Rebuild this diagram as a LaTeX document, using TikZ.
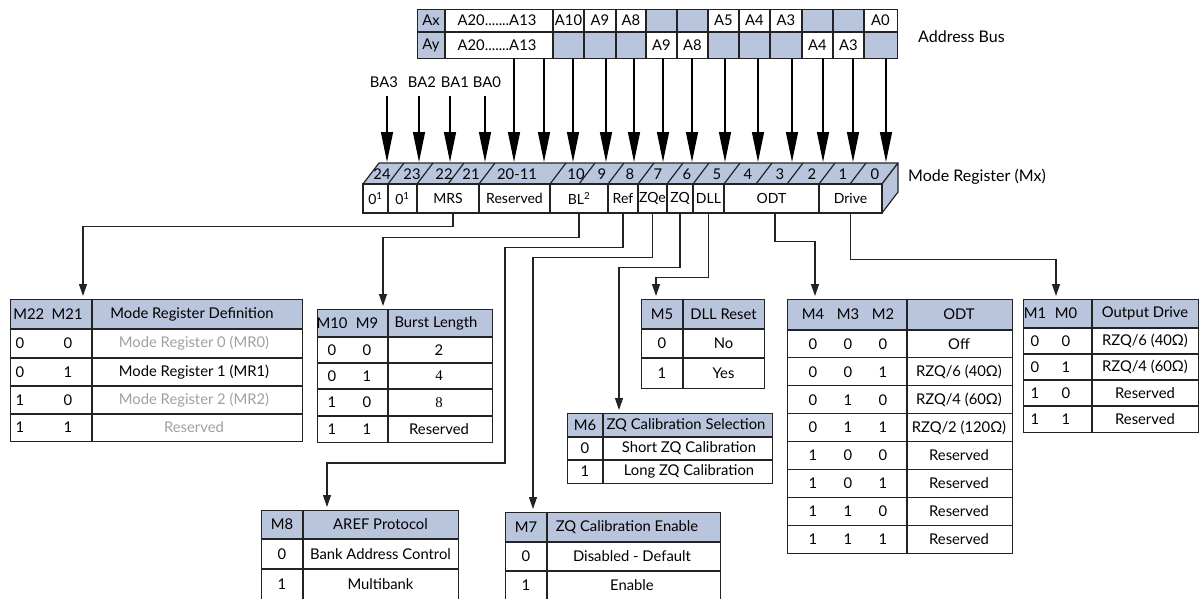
\documentclass[tikz,border=0pt]{standalone}
\usepackage{fontspec}
\setmainfont{Lato}
\newfontfamily\numserif{Liberation Serif}
\usetikzlibrary{arrows.meta}
\definecolor{hdr}{RGB}{185,197,220}
\definecolor{lgray}{RGB}{160,160,160}
\definecolor{ln}{RGB}{35,35,35}
\begin{document}
\begin{tikzpicture}[x=1pt,y=-1pt,
  txt/.style={inner sep=0pt,font=\fontsize{14.8}{16}\selectfont},
  lbl/.style={inner sep=0pt,font=\fontsize{16}{18}\selectfont},
  tline/.style={draw=ln,line width=1.2pt},
  tframe/.style={draw=ln,line width=1.2pt,inner sep=0pt,anchor=north west},
  rcell/.style={draw=ln,line width=1.2pt,inner sep=0pt,minimum height=29pt,fill=white,font=\fontsize{14}{16}\selectfont},
  bigarr/.style={draw=black,line width=1.3pt,-{Triangle[length=30pt,width=12pt]}},
  conn/.style={draw=ln,line width=1.2pt,-{Triangle[length=12pt,width=8pt]}},
]
\clip (0,0) rectangle (1199,598);

% ---------------- Address bus ----------------
\fill[hdr] (417,9) rectangle (445,58);
\foreach \l/\r/\ta/\fa/\tb/\fb [count=\i] in
 {553/584/A10/white//hdr, 584/616/A9/white//hdr, 616/646/A8/white//hdr,
  646/677//hdr/A9/white, 677/708//hdr/A8/white, 708/739/A5/white//hdr,
  739/770/A4/white//hdr, 770/802/A3/white//hdr, 802/833//hdr/A4/white,
  833/864//hdr/A3/white, 864/897/A0/white//hdr}{
  \fill[\fa] (\l,9) rectangle (\r,32);
  \fill[\fb] (\l,32) rectangle (\r,58);
  \node[txt] (ax\i) at ({(\l+\r)/2},20.5) {\ta};
  \node[txt] (ay\i) at ({(\l+\r)/2},45) {\tb};
}
\node[tframe,minimum width=480pt,minimum height=49pt] (bus) at (417,9) {};
\draw[tline] (417,32) -- (897,32);
\foreach \x in {445,553,584,616,646,677,708,739,770,802,833,864}
  \draw[tline] (\x,9) -- (\x,58);
\node[txt] (axl) at (431,20.5) {Ax};
\node[txt] (ayl) at (431,45) {Ay};
\node[txt] (axh) at (497,20.5) {A20.......A13};
\node[txt] (ayh) at (497,45) {A20.......A13};
\node[lbl,anchor=west] (busname) at (918,37) {Address Bus};

% ---------------- Mode register ----------------
\filldraw[fill=hdr,draw=ln,line width=1.2pt,line join=round]
  (363,184) -- (379,163) -- (898,163) -- (882,184) -- cycle;
\filldraw[fill=hdr,draw=ln,line width=1.2pt,line join=round]
  (882,184) -- (898,163) -- (898,192) -- (882,213) -- cycle;
\foreach \x in {388,417,448,479,550,579,608,638,667,693,724,756,787,819,850}
  \draw[tline] (\x,184) -- ++(16,-21);
\foreach \x/\t [count=\i] in {382/24,412/23,444/22,471/21,517/20-11,576/10,602/9,630/8,
  658/7,687/6,717/5,748/4,780/3,812/2,843/1,875/0}
  \node[txt] (bit\i) at (\x,174) {\t};

\node[rcell,minimum width=25pt] (rz1) at (375.5,198.5) {0\textsuperscript{1}};
\node[rcell,minimum width=29pt] (rz2) at (402.5,198.5) {0\textsuperscript{1}};
\node[rcell,minimum width=62pt] (rMRS) at (448,198.5) {MRS};
\node[rcell,minimum width=71pt] (rRes) at (514.5,198.5) {Reserved};
\node[rcell,minimum width=58pt] (rBL) at (579,198.5) {BL\textsuperscript{2}};
\node[rcell,minimum width=30pt] (rRef) at (623,198.5) {Ref};
\node[rcell,minimum width=29pt] (rZQe) at (652.5,198.5) {ZQe};
\node[rcell,minimum width=26pt] (rZQ) at (680,198.5) {ZQ};
\node[rcell,minimum width=31pt] (rDLL) at (708.5,198.5) {DLL};
\node[rcell,minimum width=95pt] (rODT) at (771.5,198.5) {ODT};
\node[rcell,minimum width=63pt] (rDrive) at (850.5,198.5) {Drive};
\node[lbl,anchor=west] (regname) at (908,177) {Mode Register (Mx)};

% ---------------- input arrows ----------------
\foreach \x [count=\i] in {514,544,573,606,634,663,692,725,758,792,823,853,886}{
  \coordinate (bs\i) at (\x,58);
  \coordinate (be\i) at (\x,162);
  \draw[bigarr] (bs\i) -- (be\i);
}
\foreach \lx/\ax/\t in {384/387/BA3,422/419/BA2,455/450/BA1,487/485/BA0}{
  \node[txt] (n\t) at (\lx,82) {\t};
  \coordinate (s\t) at (\ax,96);
  \coordinate (e\t) at (\ax,162);
  \draw[bigarr] (s\t) -- (e\t);
}

% ---------------- Table: Mode register definition ----------------
\fill[hdr] (10,299) rectangle (302,329);
\node[tframe,minimum width=292pt,minimum height=142pt] (tMRD) at (10,299) {};
\foreach \y in {329,358,386,414} \draw[tline] (10,\y) -- (302,\y);
\draw[tline] (92,299) -- (92,441);
\node[txt] (hMRD1) at (48,314) {M22\enspace M21};
\node[txt] (hMRD2) at (192,314) {Mode Register Definition};
\foreach \a/\b/\t/\c/\y in {0/0/{Mode Register 0 (MR0)}/lgray/343.5,
  0/1/{Mode Register 1 (MR1)}/black/372, 1/0/{Mode Register 2 (MR2)}/lgray/400,
  1/1/{Reserved}/lgray/427.5}{
  \node[txt] at (20,\y) {\a};
  \node[txt] at (68,\y) {\b};
  \node[txt,text=\c] at (194,\y) {\t};
}

% ---------------- Table: Burst length ----------------
\fill[hdr] (317,309) rectangle (492,337);
\node[tframe,minimum width=175pt,minimum height=133pt] (tBL) at (317,309) {};
\foreach \y in {337,363,389,416} \draw[tline] (317,\y) -- (492,\y);
\draw[tline] (388,309) -- (388,442);
\node[txt] at (332,323) {M10};
\node[txt] at (367,323) {M9};
\node[txt] (hBL) at (436,323) {Burst Length};
\foreach \a/\b/\t/\y in {0/0/2/350,0/1/{\numserif 4}/376,1/0/{\numserif 8}/402.5,1/1/Reserved/429}{
  \node[txt] at (332,\y) {\a};
  \node[txt] at (367,\y) {\b};
  \node[txt] at (439,\y) {\t};
}

% ---------------- Table: DLL reset ----------------
\fill[hdr] (641,299) rectangle (764,329);
\node[tframe,minimum width=123pt,minimum height=89pt] (tDLL) at (641,299) {};
\draw[tline] (641,329) -- (764,329);
\draw[tline] (641,358) -- (764,358);
\draw[tline] (683,299) -- (683,388);
\node[txt] at (662,314) {M5};
\node[txt] at (723.5,314) {DLL Reset};
\node[txt] at (662,343.5) {0};
\node[txt] at (723.5,343.5) {No};
\node[txt] at (662,373) {1};
\node[txt] at (723.5,373) {Yes};

% ---------------- Table: ODT ----------------
\fill[hdr] (787,299) rectangle (1012,330);
\node[tframe,minimum width=225pt,minimum height=254pt] (tODT) at (787,299) {};
\foreach \y in {330,357.875,385.75,413.625,441.5,469.375,497.25,525.125} \draw[tline] (787,\y) -- (1012,\y);
\draw[tline] (907,299) -- (907,553);
\node[txt] at (813,314.5) {M4};
\node[txt] at (848,314.5) {M3};
\node[txt] at (883,314.5) {M2};
\node[txt] at (959,314.5) {ODT};
\foreach \a/\b/\c/\t [count=\i] in {0/0/0/Off,0/0/1/{RZQ/6 (40Ω)},0/1/0/{RZQ/4 (60Ω)},
  0/1/1/{RZQ/2 (120Ω)},1/0/0/Reserved,1/0/1/Reserved,1/1/0/Reserved,1/1/1/Reserved}{
  \pgfmathsetmacro\yy{330+27.875*(\i-0.5)}
  \node[txt] at (813,\yy) {\a};
  \node[txt] at (848,\yy) {\b};
  \node[txt] at (883,\yy) {\c};
  \node[txt] at (959,\yy) {\t};
}

% ---------------- Table: Output drive ----------------
\fill[hdr] (1023,299) rectangle (1198,328);
\node[tframe,minimum width=175pt,minimum height=133pt] (tOD) at (1023,299) {};
\foreach \y in {328,354,380,406} \draw[tline] (1023,\y) -- (1198,\y);
\draw[tline] (1092,299) -- (1092,432);
\node[txt] at (1035,313.5) {M1};
\node[txt] at (1066,313.5) {M0};
\node[txt] at (1145,313.5) {Output Drive};
\foreach \a/\b/\t/\y in {0/0/{RZQ/6 (40Ω)}/341,0/1/{RZQ/4 (60Ω)}/367,1/0/Reserved/393,1/1/Reserved/419}{
  \node[txt] at (1035,\y) {\a};
  \node[txt] at (1066,\y) {\b};
  \node[txt] at (1145,\y) {\t};
}

% ---------------- Table: ZQ calibration selection ----------------
\fill[hdr] (567,413) rectangle (772,437);
\node[tframe,minimum width=205pt,minimum height=70pt] (tZQS) at (567,413) {};
\draw[tline] (567,437) -- (772,437);
\draw[tline] (567,460) -- (772,460);
\draw[tline] (603,413) -- (603,483);
\node[txt] at (585,425) {M6};
\node[txt] at (686,425) {ZQ Calibration Selection};
\node[txt] at (585,448.5) {0};
\node[txt] at (689,448.5) {Short ZQ Calibration};
\node[txt] at (585,471.5) {1};
\node[txt] at (689,471.5) {Long ZQ Calibration};

% ---------------- Table: ZQ calibration enable ----------------
\fill[hdr] (505,512) rectangle (720,542);
\node[tframe,minimum width=215pt,minimum height=90pt] (tZQE) at (505,512) {};
\draw[tline] (505,542) -- (720,542);
\draw[tline] (505,571) -- (720,571);
\draw[tline] (547,512) -- (547,602);
\node[txt] at (526,527) {M7};
\node[txt] at (627,527) {ZQ Calibration Enable};
\node[txt] at (526,556.5) {0};
\node[txt] at (632,556.5) {Disabled - Default};
\node[txt] at (526,585.5) {1};
\node[txt] at (632,585.5) {Enable};

% ---------------- Table: AREF protocol ----------------
\fill[hdr] (261,510) rectangle (458,539);
\node[tframe,minimum width=197pt,minimum height=92pt] (tAREF) at (261,510) {};
\draw[tline] (261,539) -- (458,539);
\draw[tline] (261,569) -- (458,569);
\draw[tline] (303,510) -- (303,602);
\node[txt] at (282,524.5) {M8};
\node[txt] at (380.5,524.5) {AREF Protocol};
\node[txt] at (282,554) {0};
\node[txt] at (380.5,554) {Bank Address Control};
\node[txt] at (282,584) {1};
\node[txt] at (380.5,584) {Multibank};

% ---------------- connectors ----------------
\coordinate (aMRD) at (83,296);
\coordinate (aBL) at (383,306);
\coordinate (jRef) at (505,463);
\coordinate (aAREF) at (327,507);
\coordinate (aZQE) at (533,509);
\coordinate (aZQS) at (619,410);
\coordinate (aDLL) at (656,296);
\coordinate (aODT) at (815,296);
\coordinate (aOD) at (1056,296);
\draw[conn] ([xshift=5pt]rMRS.south) -- ++(0,13) -| (aMRD);
\draw[conn] (rBL.south) -- ++(0,24) -| (aBL);
\draw[conn] (rRef.south) -- ++(0,34) -| (jRef) -| (aAREF);
\draw[conn] (rZQe.south) -- ++(0,44) -| (aZQE);
\draw[conn] (rZQ.south) -- ++(0,54) -| (aZQS);
\draw[conn] (rDLL.south) -- ++(0,64) -| (aDLL);
\draw[conn] ([xshift=3.5pt]rODT.south) -- ++(0,28) -| (aODT);
\draw[conn] (rDrive.south) -- ++(0,46) -| (aOD);
\end{tikzpicture}
\end{document}
